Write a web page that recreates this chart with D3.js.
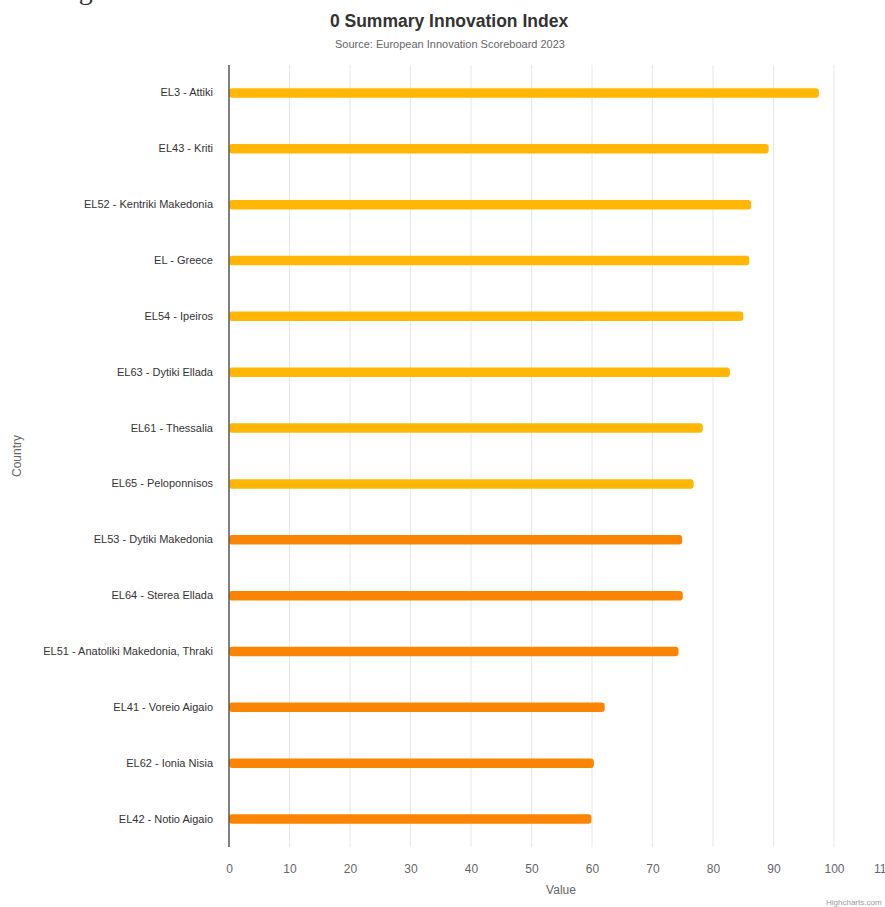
<!DOCTYPE html>
<html>
<head>
<meta charset="utf-8">
<script src="https://cdn.jsdelivr.net/npm/d3@7"></script>
<style>
  html, body { margin: 0; padding: 0; background: #fff; }
  svg { display: block; font-family: "Liberation Sans", Arial, Helvetica, sans-serif; }
</style>
</head>
<body>
<svg id="chart" width="885" height="907"></svg>
<script>
// ---- data ----
const categories = [
  "EL3 - Attiki",
  "EL43 - Kriti",
  "EL52 - Kentriki Makedonia",
  "EL - Greece",
  "EL54 - Ipeiros",
  "EL63 - Dytiki Ellada",
  "EL61 - Thessalia",
  "EL65 - Peloponnisos",
  "EL53 - Dytiki Makedonia",
  "EL64 - Sterea Ellada",
  "EL51 - Anatoliki Makedonia, Thraki",
  "EL41 - Voreio Aigaio",
  "EL62 - Ionia Nisia",
  "EL42 - Notio Aigaio"
];
const values = [97.5, 89.2, 86.3, 86.0, 85.0, 82.8, 78.3, 76.8, 74.9, 75.0, 74.3, 62.1, 60.3, 59.9];
const groups = ["high","high","high","high","high","high","high","high","low","low","low","low","low","low"];
const xTicks = [0, 10, 20, 30, 40, 50, 60, 70, 80, 90, 100, 110];
const titleText = "0 Summary Innovation Index";
const subtitleText = "Source: European Innovation Scoreboard 2023";
const xAxisTitle = "Value";
const yAxisTitle = "Country";
const creditText = "Highcharts.com";

// ---- layout ----
const svg = d3.select("#chart");
const plot = { left: 229, top: 65, bottom: 847 };
const colorMap = { high: "#ffb703", low: "#fb8500" };

const x = d3.scaleLinear().domain([0, 110]).range([plot.left, plot.left + 665.5]);
const y = d3.scaleBand().domain(categories).range([plot.top, plot.bottom]).paddingInner(0).paddingOuter(0);

// clipped serif text at very top (remnant of cropped page, only descenders visible)
svg.append("text")
  .attr("x", -6).attr("y", -1)
  .attr("font-family", "'Liberation Serif', 'Times New Roman', serif")
  .attr("font-size", 28)
  .attr("fill", "#333")
  .text("nce: Regional Innovation Index 2023");

// gridlines
svg.append("g").selectAll("line").data(xTicks.filter(d => d > 0)).join("line")
  .attr("x1", d => x(d)).attr("x2", d => x(d))
  .attr("y1", plot.top).attr("y2", plot.bottom)
  .attr("stroke", "#e6e6e6").attr("stroke-width", 1);

// bars
const barH = 9.5;
svg.append("g").selectAll("rect").data(categories).join("rect")
  .attr("x", x(0))
  .attr("y", d => y(d) + y.bandwidth() / 2 - barH / 2)
  .attr("width", (d, i) => x(values[i]) - x(0))
  .attr("height", barH)
  .attr("rx", 3).attr("ry", 3)
  .attr("fill", (d, i) => colorMap[groups[i]]);

// y axis line
svg.append("line")
  .attr("x1", plot.left).attr("x2", plot.left)
  .attr("y1", plot.top).attr("y2", plot.bottom)
  .attr("stroke", "#555").attr("stroke-width", 1.5);

// y axis labels via d3 axis
const yAxis = d3.axisLeft(y).tickSize(0).tickPadding(16);
const yg = svg.append("g").attr("transform", `translate(${plot.left},0)`).call(yAxis);
yg.select(".domain").remove();
yg.selectAll("text").attr("font-size", 11).attr("fill", "#333")
  .attr("font-family", "'Liberation Sans', Arial, sans-serif");

// x axis labels
const xAxis = d3.axisBottom(x).tickValues(xTicks).tickSize(0).tickPadding(17).tickFormat(d3.format("d"));
const xg = svg.append("g").attr("transform", `translate(0,${plot.bottom})`).call(xAxis);
xg.select(".domain").remove();
xg.selectAll("text").attr("font-size", 12).attr("fill", "#666")
  .attr("font-family", "'Liberation Sans', Arial, sans-serif");
// last label is justified inward (as in the reference)
xg.selectAll(".tick").filter(d => d === 110).select("text").attr("dx", -11.5);

// axis titles
svg.append("text")
  .attr("x", 561).attr("y", 894)
  .attr("text-anchor", "middle").attr("font-size", 12).attr("fill", "#666")
  .text(xAxisTitle);
svg.append("text")
  .attr("transform", `translate(21,${(plot.top + plot.bottom) / 2}) rotate(-90)`)
  .attr("text-anchor", "middle").attr("font-size", 12).attr("fill", "#666")
  .text(yAxisTitle);

// title and subtitle
svg.append("text")
  .attr("x", 449).attr("y", 27)
  .attr("text-anchor", "middle").attr("font-size", 17.5).attr("font-weight", "bold").attr("fill", "#333")
  .text(titleText);
svg.append("text")
  .attr("x", 450).attr("y", 48)
  .attr("text-anchor", "middle").attr("font-size", 11).attr("fill", "#666")
  .text(subtitleText);

// credits
svg.append("text")
  .attr("x", 826).attr("y", 905)
  .attr("font-size", 8).attr("fill", "#999")
  .text(creditText);
</script>
</body>
</html>
